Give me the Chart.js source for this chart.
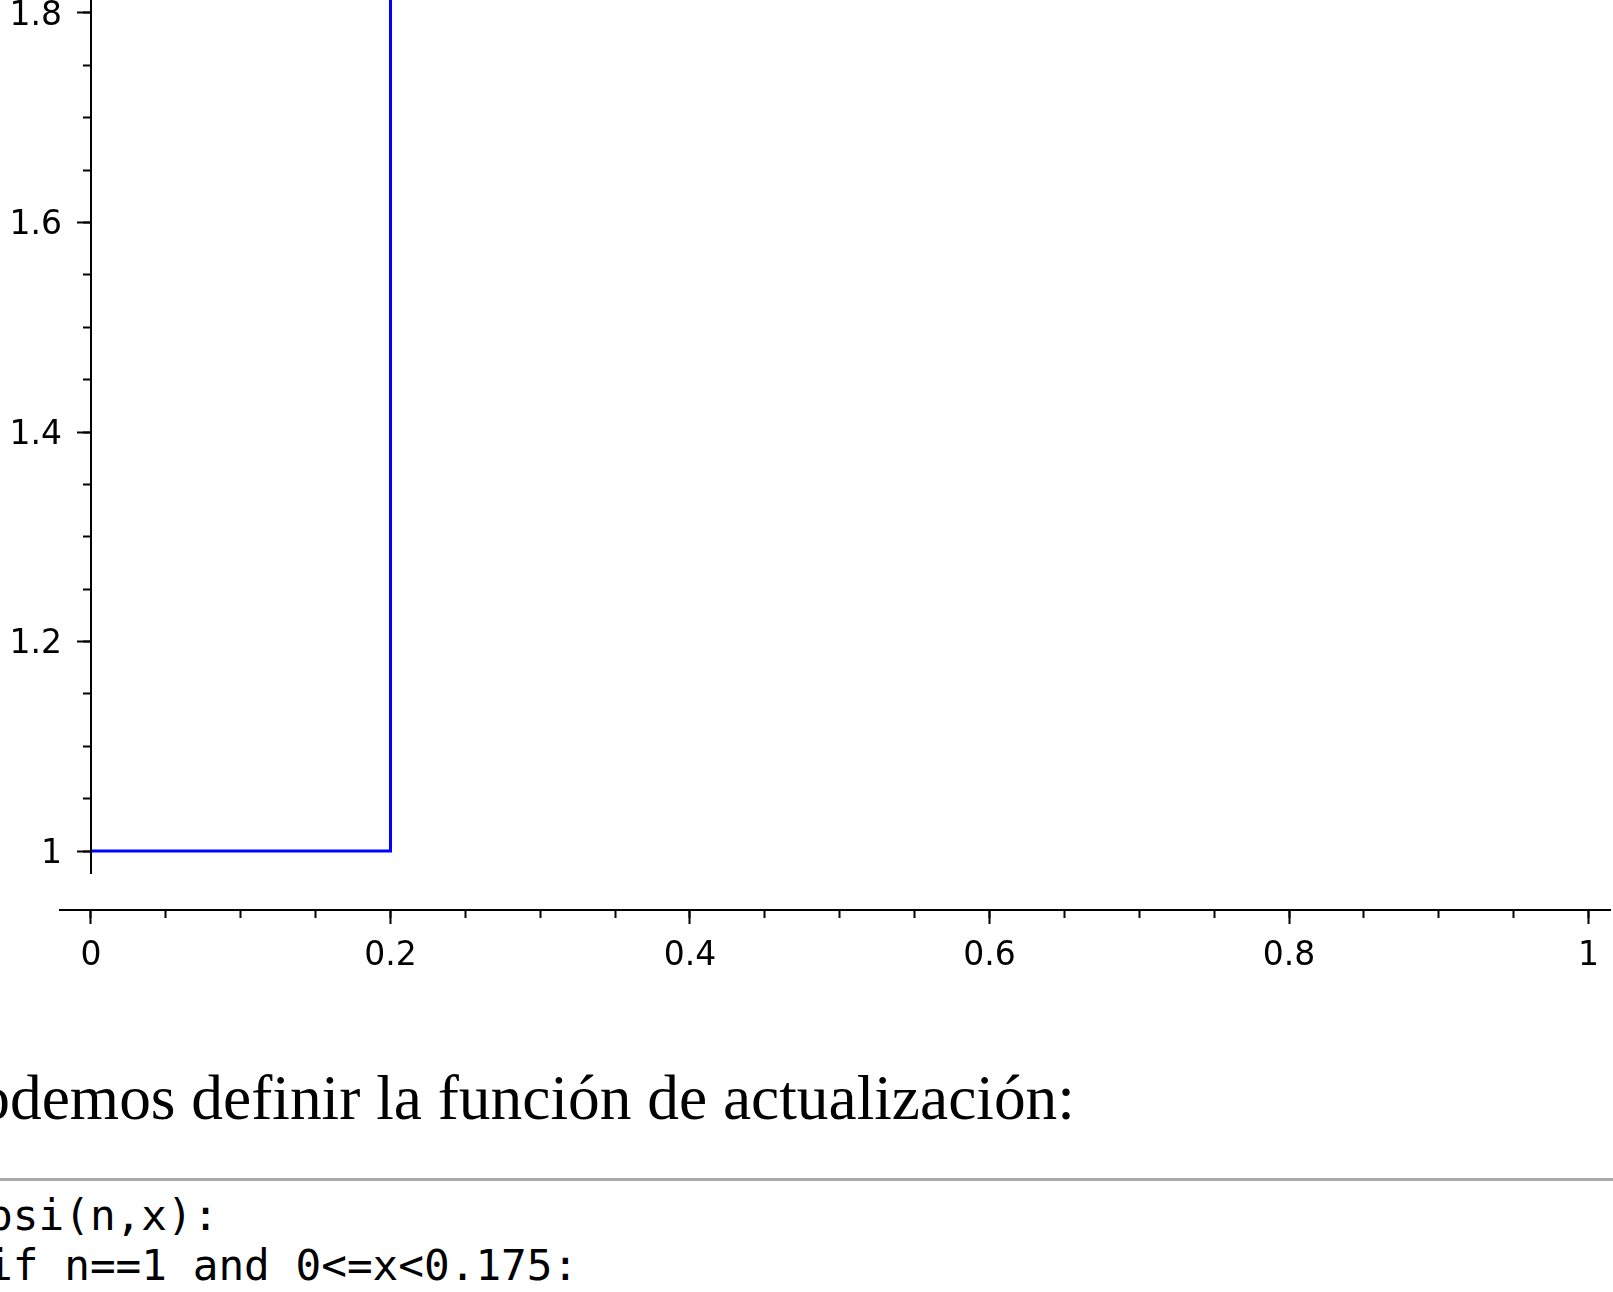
<!DOCTYPE html>
<html>
<head>
<meta charset="utf-8">
<script src="https://cdn.jsdelivr.net/npm/chart.js@4.4.1/dist/chart.umd.min.js"></script>
<style>
  html, body { margin: 0; padding: 0; background: #fff; }
  body { width: 1613px; height: 1292px; overflow: hidden; position: relative; }
  #plot { position: absolute; left: 0; top: -60px; }
  .texto {
    position: absolute; left: -53.4px; top: 1067px;
    font-family: "Liberation Serif", "Times New Roman", serif;
    font-size: 63.4px; line-height: 63.4px; color: #000; white-space: nowrap;
  }
  .regla { position: absolute; left: 0; width: 1613px; top: 1178px; height: 3px; background: #a9a9a9; }
  .codigo {
    position: absolute; left: -115.7px; top: 1190px; margin: 0;
    font-family: "DejaVu Sans Mono", monospace;
    font-size: 42.7px; line-height: 50px; color: #000; white-space: pre;
  }
</style>
</head>
<body>
<canvas id="plot" width="1613" height="1100"></canvas>
<div class="texto">podemos definir la función de actualización:</div>
<div class="regla"></div>
<pre class="codigo">def psi(n,x):
    if n==1 and 0&lt;=x&lt;0.175:</pre>

<script>
// datos de la función escalonada (sólo el tramo visible)
const stepX = [0, 0.2, 0.2];
const stepY = [1, 1, 2];

// marcas de los ejes
const xMajorTicks = [0, 0.2, 0.4, 0.6, 0.8, 1];
const xTickLabels = ["0", "0.2", "0.4", "0.6", "0.8", "1"];
const xMinorTicks = [0, 0.05, 0.1, 0.15, 0.2, 0.25, 0.3, 0.35, 0.4, 0.45, 0.5,
                     0.55, 0.6, 0.65, 0.7, 0.75, 0.8, 0.85, 0.9, 0.95, 1];
const yMajorTicks = [1, 1.2, 1.4, 1.6, 1.8];
const yTickLabels = ["1", "1.2", "1.4", "1.6", "1.8"];
const yMinorTicks = [1, 1.05, 1.1, 1.15, 1.2, 1.25, 1.3, 1.35, 1.4, 1.45, 1.5,
                     1.55, 1.6, 1.65, 1.7, 1.75, 1.8];

// ventana visible
const X_MIN = -0.0207, X_MAX = 1.0147;
const Y_MIN = 0.8578, Y_MAX = 1.8315;
const X_AXIS_AT = 0.9437;    // altura donde cruza el eje x
const Y_SPINE_END = 0.978;   // el eje y termina un poco debajo de 1
const Y_LABEL_AT = -0.0193;  // borde derecho de las etiquetas del eje y

const tickFont = { family: "DejaVu Sans", size: 33 };

const fixTicks = (vals) => (scale) => { scale.ticks = vals.map(v => ({ value: v })); };

// el eje y de sage no baja hasta el eje x, lo dibujamos aparte
const ySpine = {
  id: "ySpine",
  afterDraw(chart) {
    const { ctx, chartArea, scales } = chart;
    const px = Math.round(scales.x.getPixelForValue(0));
    ctx.save();
    ctx.strokeStyle = "#000";
    ctx.lineWidth = 2;
    ctx.beginPath();
    ctx.moveTo(px, chartArea.top);
    ctx.lineTo(px, scales.y.getPixelForValue(Y_SPINE_END));
    ctx.stroke();
    ctx.restore();
  }
};

const tickMarks = (len) => ({ drawOnChartArea: false, drawTicks: true, tickLength: len, tickWidth: 2, tickColor: "#000" });

new Chart(document.getElementById("plot"), {
  type: "line",
  data: {
    datasets: [{
      data: stepX.map((x, i) => ({ x: x, y: stepY[i] })),
      borderColor: "#0000ff",
      borderWidth: 3,
      pointRadius: 0,
      tension: 0,
      fill: false
    }]
  },
  options: {
    responsive: false,
    animation: false,
    devicePixelRatio: 1,
    layout: { padding: { top: 40, left: 60, right: 0, bottom: 40 } },
    plugins: { legend: { display: false }, tooltip: { enabled: false } },
    scales: {
      x: {
        type: "linear", min: X_MIN, max: X_MAX,
        position: { y: X_AXIS_AT },
        afterBuildTicks: fixTicks(xMajorTicks),
        ticks: { autoSkip: false, maxRotation: 0, padding: 14, color: "#000", font: tickFont,
                 callback: (v, i) => xTickLabels[i] },
        grid: tickMarks(13),
        border: { display: true, color: "#000", width: 2 }
      },
      xMinor: {
        axis: "x", type: "linear", min: X_MIN, max: X_MAX,
        position: { y: X_AXIS_AT },
        afterBuildTicks: fixTicks(xMinorTicks),
        ticks: { display: false },
        grid: tickMarks(8),
        border: { display: false }
      },
      // escala de datos: sólo pone las etiquetas, a la izquierda del eje
      y: {
        type: "linear", min: Y_MIN, max: Y_MAX,
        position: { x: Y_LABEL_AT },
        afterBuildTicks: fixTicks(yMajorTicks),
        ticks: { autoSkip: false, padding: 0, labelOffset: 3, color: "#000", font: tickFont,
                 callback: (v, i) => yTickLabels[i] },
        grid: { drawOnChartArea: false, drawTicks: false },
        border: { display: false }
      },
      yMajor: {
        axis: "y", type: "linear", min: Y_MIN, max: Y_MAX,
        position: { x: 0 },
        afterBuildTicks: fixTicks(yMajorTicks),
        ticks: { display: false },
        grid: tickMarks(14),
        border: { display: false }
      },
      yMinor: {
        axis: "y", type: "linear", min: Y_MIN, max: Y_MAX,
        position: { x: 0 },
        afterBuildTicks: fixTicks(yMinorTicks),
        ticks: { display: false },
        grid: tickMarks(8),
        border: { display: false }
      }
    }
  },
  plugins: [ySpine]
});
</script>
</body>
</html>
